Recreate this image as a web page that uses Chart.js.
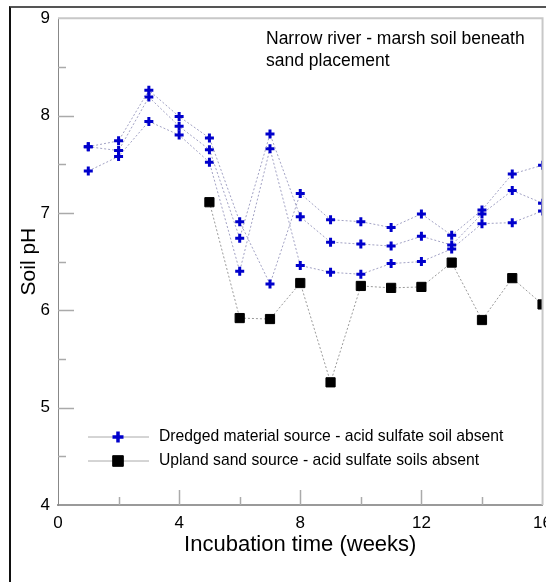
<!DOCTYPE html>
<html>
<head>
<meta charset="utf-8">
<title>Soil pH - Narrow river</title>
<script src="https://cdn.jsdelivr.net/npm/chart.js@4.4.0/dist/chart.umd.min.js"></script>
<style>
  html, body { margin: 0; padding: 0; background: #fff; overflow: hidden; }
  #frame {
    position: absolute; left: 9px; top: 6px; width: 700px; height: 700px;
    border-left: 2px solid #111; border-top: 2px solid #555;
  }
  #soilChart { position: absolute; left: 0; top: 0; }
</style>
</head>
<body>
<div id="frame"></div>
<canvas id="soilChart" width="560" height="582"></canvas>
<script>
// Data (weeks of incubation vs soil pH)
const weeks = [1, 2, 3, 4, 5, 6, 7, 8, 9, 10, 11, 12, 13, 14, 15, 16];
const dredgedRep1 = [7.68, 7.74, 8.26, 7.99, 7.77, 6.91, 6.27, 7.20, 6.93, 6.91, 6.85, 6.99, 6.77, 7.03, 7.40, 7.49];
const dredgedRep2 = [7.68, 7.64, 8.19, 7.89, 7.65, 6.74, 7.81, 6.96, 6.70, 6.68, 6.66, 6.76, 6.67, 6.99, 7.23, 7.10];
const dredgedRep3 = [7.43, 7.58, 7.94, 7.80, 7.52, 6.40, 7.66, 6.46, 6.39, 6.37, 6.48, 6.50, 6.63, 6.89, 6.90, 7.02];
const uplandWeeks = [5, 6, 7, 8, 9, 10, 11, 12, 13, 14, 15, 16];
const uplandSand = [7.11, 5.92, 5.91, 6.28, 5.26, 6.25, 6.23, 6.24, 6.49, 5.90, 6.33, 6.06];

const xTickLabels = [0, 4, 8, 12, 16];
const yTickLabels = [4, 5, 6, 7, 8, 9];
const xTickMarks = [2, 4, 6, 8, 10, 12, 14];
const yTickMarks = [4.5, 5, 5.5, 6, 6.5, 7, 7.5, 8, 8.5];

const noteLines = ['Narrow river - marsh soil beneath', 'sand placement'];
const legendLabels = [
  'Dredged material source - acid sulfate soil absent',
  'Upland sand source - acid sulfate soils absent'
];

const FONT = "'Liberation Sans', Arial, Helvetica, sans-serif";

function toPoints(xs, ys) {
  return xs.map((x, i) => ({ x: x, y: ys[i] }));
}

function dredgedSet(values, label) {
  return {
    label: label,
    data: toPoints(weeks, values),
    borderColor: '#a2a2c4',
    borderWidth: 1,
    borderDash: [2, 2],
    pointStyle: 'cross',
    pointRadius: 4.5,
    pointBorderWidth: 3,
    pointBorderColor: '#0000cc',
    pointBackgroundColor: '#0000cc',
    tension: 0,
    fill: false
  };
}

// small helper for markers in the legend
function marker(ctx, style, x, y, r, lw) {
  if (Chart.helpers && Chart.helpers.drawPoint) {
    Chart.helpers.drawPoint(ctx, { pointStyle: style, radius: r, borderWidth: lw, rotation: 0 }, x, y);
    return;
  }
  ctx.beginPath();
  if (style === 'cross') {
    ctx.moveTo(x - r, y); ctx.lineTo(x + r, y);
    ctx.moveTo(x, y - r); ctx.lineTo(x, y + r);
    ctx.stroke();
  } else {
    const s = r * Math.SQRT1_2;
    ctx.rect(x - s, y - s, 2 * s, 2 * s);
    ctx.fill(); ctx.stroke();
  }
}

// plot frame, inward tick marks, note text and legend
const decorations = {
  id: 'decorations',
  afterDraw(chart) {
    const { ctx, chartArea: a, scales } = chart;
    ctx.save();

    // light frame on top and right
    ctx.strokeStyle = '#c8c8c8';
    ctx.lineWidth = 2;
    ctx.beginPath();
    ctx.moveTo(a.left, a.top);
    ctx.lineTo(a.right, a.top);
    ctx.lineTo(a.right, a.bottom);
    ctx.stroke();

    // inside ticks
    ctx.strokeStyle = '#aaaaaa';
    ctx.lineWidth = 1.5;
    yTickMarks.forEach(v => {
      const py = Math.round(scales.y.getPixelForValue(v)) + 0.5;
      const len = Number.isInteger(v) ? 16 : 8;
      ctx.beginPath();
      ctx.moveTo(a.left, py);
      ctx.lineTo(a.left + len, py);
      ctx.stroke();
    });
    xTickMarks.forEach(v => {
      const px = Math.round(scales.x.getPixelForValue(v)) + 0.5;
      const len = v % 4 === 0 ? 15 : 8;
      ctx.beginPath();
      ctx.moveTo(px, a.bottom);
      ctx.lineTo(px, a.bottom - len);
      ctx.stroke();
    });

    // note in upper right
    ctx.fillStyle = '#000';
    ctx.font = '17.5px ' + FONT;
    ctx.textAlign = 'left';
    ctx.textBaseline = 'middle';
    noteLines.forEach((t, i) => ctx.fillText(t, a.left + 208, a.top + 21 + i * 22));

    // legend
    const rows = [
      { style: 'cross', color: '#0000cc', r: 5.5, lw: 3.5 },
      { style: 'rect', color: '#000000', r: 7.5, lw: 1 }
    ];
    rows.forEach((row, i) => {
      const y = a.bottom - 68 + i * 24;
      ctx.setLineDash([]);
      ctx.strokeStyle = '#aaa';
      ctx.lineWidth = 1;
      ctx.beginPath();
      ctx.moveTo(a.left + 30, y);
      ctx.lineTo(a.left + 91, y);
      ctx.stroke();
      ctx.strokeStyle = row.color;
      ctx.fillStyle = row.color;
      ctx.lineWidth = row.lw;
      marker(ctx, row.style, a.left + 60, y, row.r, row.lw);
      ctx.fillStyle = '#000';
      ctx.font = '15.7px ' + FONT;
      ctx.fillText(legendLabels[i], a.left + 101, y);
    });

    ctx.restore();
  }
};

const ctx = document.getElementById('soilChart').getContext('2d');
const soilChart = new Chart(ctx, {
  type: 'line',
  data: {
    datasets: [
      dredgedSet(dredgedRep1, legendLabels[0]),
      dredgedSet(dredgedRep2, legendLabels[0]),
      dredgedSet(dredgedRep3, legendLabels[0]),
      {
        label: legendLabels[1],
        data: toPoints(uplandWeeks, uplandSand),
        borderColor: '#9a9a9a',
        borderWidth: 1,
        borderDash: [2, 2],
        pointStyle: 'rect',
        pointRadius: 6.5,
        pointBorderWidth: 1,
        pointBorderColor: '#000',
        pointBackgroundColor: '#000',
        tension: 0,
        fill: false
      }
    ]
  },
  options: {
    responsive: false,
    animation: false,
    devicePixelRatio: 1,
    layout: { padding: { top: 18, right: 17, bottom: 0, left: 0 } },
    plugins: {
      legend: { display: false },
      tooltip: { enabled: false }
    },
    scales: {
      x: {
        type: 'linear',
        min: 0,
        max: 16,
        afterBuildTicks: s => { s.ticks = xTickLabels.map(v => ({ value: v })); },
        afterFit: s => { s.height = 77; },
        grid: { display: false, drawTicks: false },
        border: { display: true, color: '#9a9a9a', width: 2 },
        ticks: { color: '#000', padding: 8, maxRotation: 0, autoSkip: false, font: { family: FONT, size: 17 } },
        title: {
          display: true,
          text: 'Incubation time (weeks)',
          color: '#000',
          font: { family: FONT, size: 22 },
          padding: { top: 0, bottom: 24 }
        }
      },
      y: {
        min: 4,
        max: 9,
        afterBuildTicks: s => { s.ticks = yTickLabels.map(v => ({ value: v })); },
        afterFit: s => { s.width = 58; },
        grid: { display: false, drawTicks: false },
        border: { display: true, color: '#888', width: 1 },
        ticks: { color: '#000', padding: 8, font: { family: FONT, size: 17 } },
        title: {
          display: true,
          text: 'Soil pH',
          color: '#000',
          font: { family: FONT, size: 21 },
          padding: { top: 17, bottom: 0 }
        }
      }
    }
  },
  plugins: [decorations]
});
</script>
</body>
</html>
